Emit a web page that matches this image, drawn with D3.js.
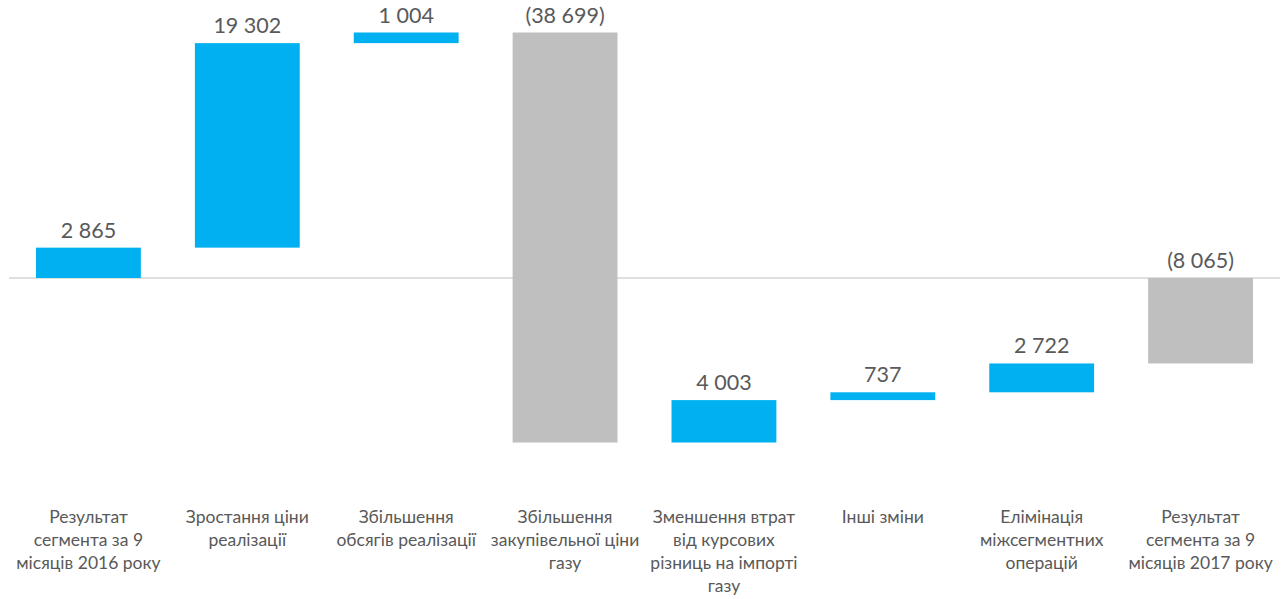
<!DOCTYPE html>
<html><head><meta charset="utf-8">
<script src="https://cdn.jsdelivr.net/npm/d3@7"></script>
<style>body{margin:0;background:#fff;}svg{display:block;}</style>
</head><body>
<svg id="c" width="1288" height="599"></svg>
<script>
const categories = [
  "Результат сегмента за 9 місяців 2016 року",
  "Зростання ціни реалізації",
  "Збільшення обсягів реалізації",
  "Збільшення закупівельної ціни газу",
  "Зменшення втрат від курсових різниць на імпорті газу",
  "Інші зміни",
  "Елімінація міжсегментних операцій",
  "Результат сегмента за 9 місяців 2017 року"
];
const categoryLines = [
  ["Результат", "сегмента за 9", "місяців 2016 року"],
  ["Зростання ціни", "реалізації"],
  ["Збільшення", "обсягів реалізації"],
  ["Збільшення", "закупівельної ціни", "газу"],
  ["Зменшення втрат", "від курсових", "різниць на імпорті", "газу"],
  ["Інші зміни"],
  ["Елімінація", "міжсегментних", "операцій"],
  ["Результат", "сегмента за 9", "місяців 2017 року"]
];
const values = [2865, 19302, 1004, -38699, 4003, 737, 2722, -8065];
const isTotal = [true, false, false, false, false, false, false, true];
const valueLabels = ["2 865", "19 302", "1 004", "(38 699)", "4 003", "737", "2 722", "(8 065)"];

const svg = d3.select("#c");
const k = 0.010595;
const zeroY = 278;
const y = d3.scaleLinear().domain([-16000, 24000]).range([zeroY + 16000 * k, zeroY - 24000 * k]);
const x = d3.scaleBand().domain(categories).range([9, 1280]).paddingInner(0.34).paddingOuter(0.17);

let run = 0;
const bars = values.map((v, i) => {
  let start, end;
  if (isTotal[i]) { start = 0; end = v; run = v; }
  else { start = run; end = run + v; run = end; }
  return {cat: categories[i], start, end, i};
});

svg.append("line").attr("x1", 9).attr("x2", 1280)
  .attr("y1", y(0)).attr("y2", y(0)).attr("stroke", "#BFBFBF").attr("stroke-width", 1);

svg.selectAll("rect.bar").data(bars).enter().append("rect")
  .attr("class", "bar")
  .attr("x", d => x(d.cat))
  .attr("width", x.bandwidth())
  .attr("y", d => y(Math.max(d.start, d.end)))
  .attr("height", d => Math.abs(y(d.start) - y(d.end)))
  .attr("fill", d => values[d.i] < 0 ? "#BFBFBF" : "#00B0F0");

svg.selectAll("text.val").data(bars).enter().append("text")
  .attr("class", "val")
  .attr("x", d => x(d.cat) + x.bandwidth() / 2)
  .attr("y", d => y(Math.max(d.start, d.end)) - 10)
  .attr("text-anchor", "middle")
  .attr("font-family", "Lato, sans-serif")
  .attr("font-size", 21.5)
  .attr("fill", "#595959")
  .text(d => valueLabels[d.i]);

const g = svg.selectAll("text.cat").data(categories).enter().append("text")
  .attr("class", "cat")
  .attr("x", d => x(d) + x.bandwidth() / 2)
  .attr("y", 523)
  .attr("text-anchor", "middle")
  .attr("font-family", "Lato, sans-serif")
  .attr("font-size", 17.5)
  .attr("fill", "#595959");
g.each(function(d, i) {
  d3.select(this).selectAll("tspan").data(categoryLines[i]).enter().append("tspan")
    .attr("x", x(d) + x.bandwidth() / 2)
    .attr("dy", (t, j) => j === 0 ? 0 : 23)
    .text(t => t);
});
</script>
</body></html>
